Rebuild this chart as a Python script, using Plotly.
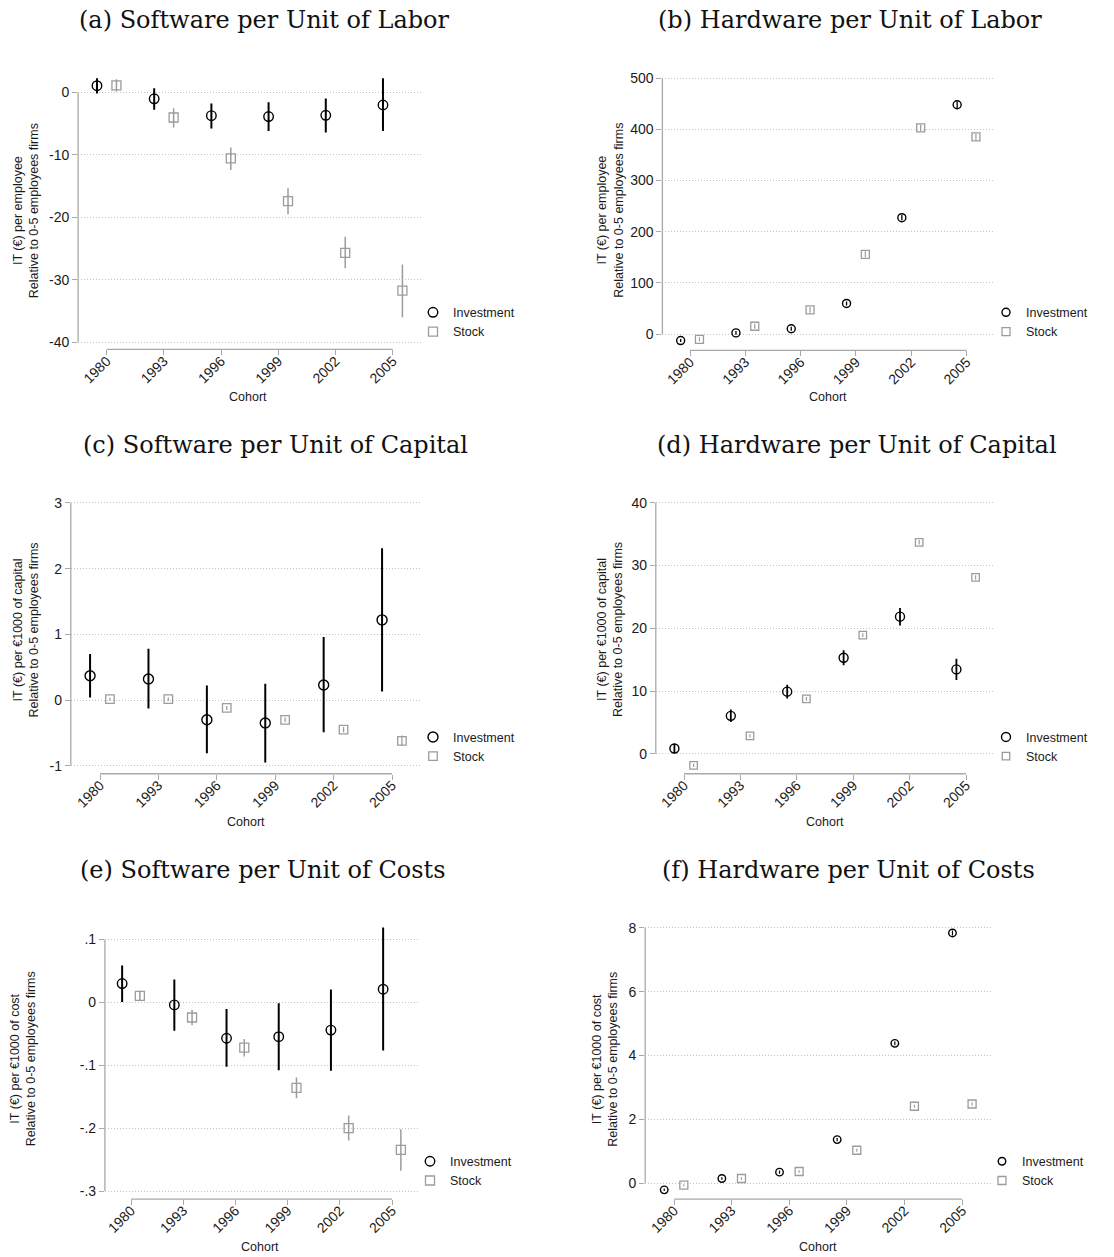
import plotly.graph_objects as go

W, H = 1114, 1257

cohorts = ["1980", "1993", "1996", "1999", "2002", "2005"]

# (a) Software per unit of labor
sw_lab_inv = [1.1, -1.0, -3.7, -3.85, -3.65, -2.0]
sw_lab_inv_lo = [-0.15, -2.75, -5.75, -6.15, -6.4, -6.15]
sw_lab_inv_hi = [2.3, 0.7, -1.75, -1.55, -0.95, 2.3]
sw_lab_stk = [1.15, -4.0, -10.55, -17.4, -25.7, -31.75]
sw_lab_stk_lo = [0.15, -5.6, -12.4, -19.5, -28.15, -36.0]
sw_lab_stk_hi = [2.15, -2.5, -8.8, -15.35, -23.1, -27.55]

# (b) Hardware per unit of labor
hw_lab_inv = [-12.5, 2.5, 10.5, 60.0, 227.5, 448.0]
hw_lab_inv_lo = [-15.5, -1.0, 6.5, 56.0, 222.5, 441.5]
hw_lab_inv_hi = [-9.5, 6.0, 14.5, 64.0, 232.5, 454.5]
hw_lab_stk = [-10.0, 15.5, 47.5, 156.0, 403.0, 385.5]
hw_lab_stk_lo = [-14.0, 10.5, 42.0, 150.0, 396.5, 379.0]
hw_lab_stk_hi = [-6.0, 20.5, 53.0, 162.0, 409.5, 392.0]

# (c) Software per unit of capital
sw_cap_inv = [0.37, 0.32, -0.30, -0.35, 0.23, 1.22]
sw_cap_inv_lo = [0.04, -0.13, -0.81, -0.95, -0.49, 0.13]
sw_cap_inv_hi = [0.70, 0.78, 0.22, 0.25, 0.96, 2.31]
sw_cap_stk = [0.015, 0.015, -0.12, -0.30, -0.45, -0.62]
sw_cap_stk_lo = [-0.005, -0.01, -0.15, -0.335, -0.49, -0.70]
sw_cap_stk_hi = [0.035, 0.04, -0.09, -0.265, -0.41, -0.54]

# (d) Hardware per unit of capital
hw_cap_inv = [0.85, 6.05, 9.9, 15.3, 21.85, 13.45]
hw_cap_inv_lo = [0.1, 5.05, 8.8, 14.1, 20.45, 11.75]
hw_cap_inv_hi = [1.6, 7.05, 11.0, 16.5, 23.25, 15.15]
hw_cap_stk = [-1.85, 2.85, 8.75, 18.9, 33.7, 28.1]
hw_cap_stk_lo = [-2.1, 2.6, 8.45, 18.6, 33.35, 27.75]
hw_cap_stk_hi = [-1.6, 3.1, 9.05, 19.2, 34.05, 28.45]

# (e) Software per unit of costs
sw_cost_inv = [0.030, -0.004, -0.057, -0.0545, -0.044, 0.021]
sw_cost_inv_lo = [0.0005, -0.045, -0.1025, -0.108, -0.1085, -0.0765]
sw_cost_inv_hi = [0.0585, 0.0365, -0.0105, -0.0015, 0.0205, 0.119]
sw_cost_stk = [0.0105, -0.024, -0.072, -0.136, -0.200, -0.2345]
sw_cost_stk_lo = [0.0025, -0.0365, -0.086, -0.1525, -0.2195, -0.2675]
sw_cost_stk_hi = [0.0185, -0.0115, -0.058, -0.1195, -0.180, -0.2015]

# (f) Hardware per unit of costs
hw_cost_inv = [-0.21, 0.145, 0.345, 1.365, 4.38, 7.84]
hw_cost_inv_lo = [-0.25, 0.105, 0.295, 1.315, 4.32, 7.76]
hw_cost_inv_hi = [-0.17, 0.185, 0.395, 1.415, 4.44, 7.92]
hw_cost_stk = [-0.065, 0.145, 0.365, 1.03, 2.41, 2.48]
hw_cost_stk_lo = [-0.095, 0.105, 0.325, 0.98, 2.36, 2.43]
hw_cost_stk_hi = [-0.035, 0.185, 0.405, 1.08, 2.46, 2.53]

titles = ["(a) Software per Unit of Labor", "(b) Hardware per Unit of Labor",
          "(c) Software per Unit of Capital", "(d) Hardware per Unit of Capital",
          "(e) Software per Unit of Costs", "(f) Hardware per Unit of Costs"]
ylabels = ["IT (€) per employee", "IT (€) per employee",
           "IT (€) per €1000 of capital", "IT (€) per €1000 of capital",
           "IT (€) per €1000 of cost", "IT (€) per €1000 of cost"]
ylabel2 = "Relative to 0-5 employees firms"

ytick_vals = [[-40, -30, -20, -10, 0], [0, 100, 200, 300, 400, 500],
              [-1, 0, 1, 2, 3], [0, 10, 20, 30, 40],
              [-0.3, -0.2, -0.1, 0, 0.1], [0, 2, 4, 6, 8]]
ytick_text = [["-40", "-30", "-20", "-10", "0"], ["0", "100", "200", "300", "400", "500"],
              ["-1", "0", "1", "2", "3"], ["0", "10", "20", "30", "40"],
              ["-.3", "-.2", "-.1", "0", ".1"], ["0", "2", "4", "6", "8"]]

series = [
    (sw_lab_inv, sw_lab_inv_lo, sw_lab_inv_hi, sw_lab_stk, sw_lab_stk_lo, sw_lab_stk_hi),
    (hw_lab_inv, hw_lab_inv_lo, hw_lab_inv_hi, hw_lab_stk, hw_lab_stk_lo, hw_lab_stk_hi),
    (sw_cap_inv, sw_cap_inv_lo, sw_cap_inv_hi, sw_cap_stk, sw_cap_stk_lo, sw_cap_stk_hi),
    (hw_cap_inv, hw_cap_inv_lo, hw_cap_inv_hi, hw_cap_stk, hw_cap_stk_lo, hw_cap_stk_hi),
    (sw_cost_inv, sw_cost_inv_lo, sw_cost_inv_hi, sw_cost_stk, sw_cost_stk_lo, sw_cost_stk_hi),
    (hw_cost_inv, hw_cost_inv_lo, hw_cost_inv_hi, hw_cost_stk, hw_cost_stk_lo, hw_cost_stk_hi),
]

# Panel geometry in pixels: plot box (left, right, top, bottom) and y range
panels = [
    dict(box=(78.1, 421.3, 70, 349), yr=(-41.17, 3.47), title=(264, 19), ytit=(25.5, 210),
         xtit=(248, 397), leg=(413, 321.7), msz=(9.5, 9), ew=(2.0, 1.5)),
    dict(box=(662.4, 994.2, 70, 350), yr=(-31.8, 514.2), title=(850, 19), ytit=(610, 210),
         xtit=(828, 397), leg=(986, 321.7), msz=(8, 8), ew=(1.3, 1.2)),
    dict(box=(70.8, 421.2, 495, 774), yr=(-1.1215, 3.117), title=(275, 445), ytit=(25.5, 630),
         xtit=(246, 822), leg=(413, 747), msz=(10, 8.5), ew=(2.0, 1.3)),
    dict(box=(655.8, 994.2, 495, 774), yr=(-3.18, 41.2), title=(857, 445), ytit=(610, 630),
         xtit=(825, 822), leg=(986, 747), msz=(9, 7.5), ew=(1.8, 1.2)),
    dict(box=(104.9, 418.1, 925, 1200), yr=(-0.3127, 0.1238), title=(262, 870), ytit=(23, 1060),
         xtit=(260, 1248), leg=(410, 1172), msz=(9.5, 9), ew=(2.0, 1.5)),
    dict(box=(645.2, 991.1, 920, 1200), yr=(-0.50, 8.26), title=(848, 870), ytit=(605.5, 1060),
         xtit=(818, 1248), leg=(982, 1172), msz=(7.5, 8), ew=(1.2, 1.2)),
]

INV_COLOR = "#000000"
STK_COLOR = "#9c9c9c"
AXIS_COLOR = "#a9a9a9"
FONT = "Liberation Sans, Arial, sans-serif"
TICK_FONT = "Liberation Sans Narrow, Arial Narrow, Liberation Sans, sans-serif"

fig = go.Figure()
layout = dict(
    width=W, height=H, margin=dict(l=0, r=0, t=0, b=0),
    paper_bgcolor="white", plot_bgcolor="white",
    font=dict(family=FONT, size=12, color="#1a1a1a"),
    shapes=[], annotations=[],
)

idx = list(range(len(cohorts)))
off = 0.17

for k, (p, s) in enumerate(zip(panels, series)):
    n = "" if k == 0 else str(k + 1)
    xa, ya = "x" + n, "y" + n
    leg = "legend" + n
    inv, inv_lo, inv_hi, stk, stk_lo, stk_hi = s
    x0, x1, top, bot = p["box"]

    fig.add_trace(go.Scatter(
        x=[i - off for i in idx], y=inv, mode="markers", name="Investment",
        xaxis=xa, yaxis=ya, legend=leg, cliponaxis=False,
        marker=dict(symbol="circle-open", size=p["msz"][0], color=INV_COLOR,
                    line=dict(width=1.4, color=INV_COLOR)),
        error_y=dict(type="data", symmetric=False,
                     array=[h - v for h, v in zip(inv_hi, inv)],
                     arrayminus=[v - l for v, l in zip(inv, inv_lo)],
                     width=0, thickness=p["ew"][0], color=INV_COLOR),
    ))
    fig.add_trace(go.Scatter(
        x=[i + off for i in idx], y=stk, mode="markers", name="Stock",
        xaxis=xa, yaxis=ya, legend=leg, cliponaxis=False,
        marker=dict(symbol="square-open", size=p["msz"][1], color=STK_COLOR,
                    line=dict(width=1.3, color=STK_COLOR)),
        error_y=dict(type="data", symmetric=False,
                     array=[h - v for h, v in zip(stk_hi, stk)],
                     arrayminus=[v - l for v, l in zip(stk, stk_lo)],
                     width=0, thickness=p["ew"][1], color=STK_COLOR),
    ))

    layout["xaxis" + n] = dict(
        domain=[x0 / W, x1 / W], range=[-0.5, 5.5], anchor=ya,
        tickmode="array", tickvals=idx, ticktext=cohorts, tickangle=-45,
        ticks="outside", ticklen=5, tickwidth=1.2, tickcolor=AXIS_COLOR,
        ticklabelstandoff=-8,
        showgrid=False, zeroline=False, showline=False,
        tickfont=dict(family=TICK_FONT, size=14, color="#1a1a1a"),
    )
    layout["yaxis" + n] = dict(
        domain=[1 - bot / H, 1 - top / H], range=list(p["yr"]), anchor=xa,
        tickmode="array", tickvals=ytick_vals[k], ticktext=ytick_text[k],
        ticks="outside", ticklen=5, tickwidth=1.2, tickcolor=AXIS_COLOR,
        showgrid=True, gridcolor="#c4c4c4", gridwidth=1, griddash="1px,2px",
        zeroline=False, showline=False,
        tickfont=dict(family=TICK_FONT, size=14, color="#1a1a1a"),
    )
    layout[leg] = dict(
        x=p["leg"][0] / W, y=1 - p["leg"][1] / H, xanchor="left", yanchor="middle",
        bgcolor="rgba(0,0,0,0)", borderwidth=0, itemwidth=30,
        font=dict(family=FONT, size=12.5, color="#1a1a1a"),
    )

    # Axis lines spanning the labelled range only
    layout["shapes"].append(dict(
        type="line", xref=xa + " domain", yref=ya, x0=0, x1=0,
        y0=min(ytick_vals[k]), y1=max(ytick_vals[k]),
        line=dict(color=AXIS_COLOR, width=1.3)))
    layout["shapes"].append(dict(
        type="line", xref=xa, yref=ya + " domain", x0=idx[0], x1=idx[-1], y0=0, y1=0,
        line=dict(color=AXIS_COLOR, width=1.3)))

    layout["annotations"].append(dict(
        text=titles[k], xref="paper", yref="paper",
        x=p["title"][0] / W, y=1 - p["title"][1] / H, xanchor="center", yanchor="middle",
        showarrow=False, font=dict(family="DejaVu Serif, serif", size=24, color="#111")))
    layout["annotations"].append(dict(
        text=ylabels[k] + "<br>" + ylabel2, xref="paper", yref="paper",
        x=p["ytit"][0] / W, y=1 - p["ytit"][1] / H, xanchor="center", yanchor="middle",
        textangle=-90, showarrow=False,
        font=dict(family=FONT, size=12.5, color="#1a1a1a")))
    layout["annotations"].append(dict(
        text="Cohort", xref="paper", yref="paper",
        x=p["xtit"][0] / W, y=1 - p["xtit"][1] / H, xanchor="center", yanchor="middle",
        showarrow=False, font=dict(family=FONT, size=12.5, color="#1a1a1a")))

fig.update_layout(**layout)
fig.write_html("out.html")
